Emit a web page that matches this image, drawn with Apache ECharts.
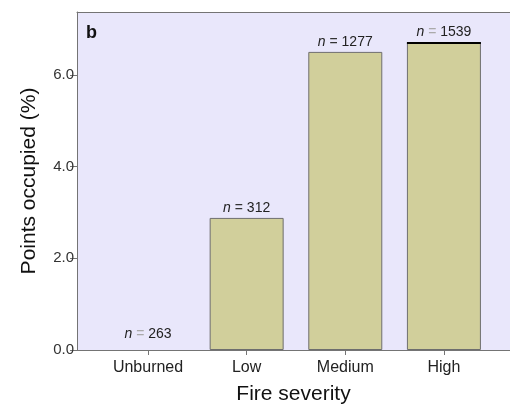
<!DOCTYPE html>
<html><head><meta charset="utf-8">
<script src="https://cdn.jsdelivr.net/npm/echarts@6/dist/echarts.min.js"></script>
<style>html,body{margin:0;padding:0;background:#fff}#c{width:510px;height:407px}</style>
</head><body><div id="c"></div>
<script>
const categories = ['Unburned', 'Low', 'Medium', 'High'];
const values = [0, 2.88, 6.50, 6.71];
const sampleSizes = [263, 312, 1277, 1539];
const yTicks = [0, 2, 4, 6];

const chart = echarts.init(document.getElementById('c'));
const gray = '#747474';
const font = 'Liberation Sans';
const barData = values.map((v, i) => ({
  value: [i, v],
  itemStyle: v === 0 ? { borderWidth: 0 } : undefined,
  label: {
    distance: v === 0 ? 9 : 3,
    formatter: '{i|n}{' + (i === 0 || i === 3 ? 'g' : 'e') + '| = }{t|' + sampleSizes[i] + '}'
  }
}));
const xMin = -0.72, xMax = 3.67;
chart.setOption({
  animation: false,
  backgroundColor: '#fff',
  grid: { left: 77, right: 0, top: 12, bottom: 57, show: true, backgroundColor: '#e9e7fb', borderWidth: 0, outerBoundsMode: 'none', containLabel: false },
  xAxis: [{
    type: 'value', min: xMin, max: xMax, position: 'bottom',
    splitLine: { show: false },
    axisLine: { show: true, onZero: false, lineStyle: { color: gray } },
    axisTick: { show: true, length: 5, lineStyle: { color: gray }, customValues: categories.map((c, i) => i) },
    axisLabel: { customValues: categories.map((c, i) => i), formatter: v => categories[Math.round(v)], color: '#222', fontSize: 16, margin: 10, fontFamily: font },
    name: 'Fire severity', nameLocation: 'middle', nameGap: 34,
    nameTextStyle: { fontSize: 21, color: '#111', fontFamily: font }
  }, {
    type: 'value', min: xMin, max: xMax, position: 'top',
    splitLine: { show: false },
    axisLine: { show: true, onZero: false, lineStyle: { color: gray } },
    axisTick: { show: false }, axisLabel: { show: false }
  }],
  yAxis: {
    type: 'value', min: 0, max: 7.37, interval: 2,
    splitLine: { show: false },
    axisLine: { show: true, onZero: false, lineStyle: { color: gray } },
    axisTick: { show: true, length: 7, lineStyle: { color: gray } },
    axisLabel: { formatter: v => yTicks.includes(v) ? v.toFixed(1) : '', color: '#333', fontSize: 15, margin: 3, fontFamily: font, showMaxLabel: false },
    name: 'Points occupied (%)', nameLocation: 'middle', nameGap: 37,
    nameTextStyle: { fontSize: 21, color: '#111', fontFamily: font }
  },
  series: [{
    type: 'bar', barWidth: 74, data: barData, xAxisIndex: 0,
    itemStyle: { color: '#d1cf9b', borderColor: '#6e6e6e', borderWidth: 1 },
    label: {
      show: true, position: 'top',
      rich: {
        i: { fontStyle: 'italic', fontSize: 14, color: '#222', fontFamily: font },
        e: { fontSize: 14, color: '#333', fontFamily: font },
        g: { fontSize: 14, color: '#aaa', fontFamily: font },
        t: { fontSize: 14, color: '#222', fontFamily: font }
      }
    },
    markLine: {
      silent: true, symbol: 'none', label: { show: false },
      lineStyle: { color: '#000', width: 2, type: 'solid' },
      data: [[{ coord: [3 - 0.375, values[3]] }, { coord: [3 + 0.375, values[3]] }]]
    }
  }],
  graphic: [{ type: 'text', left: 86, top: 24, style: { text: 'b', fontSize: 18, fontWeight: 'bold', fill: '#111', fontFamily: font } }]
});
</script></body></html>
